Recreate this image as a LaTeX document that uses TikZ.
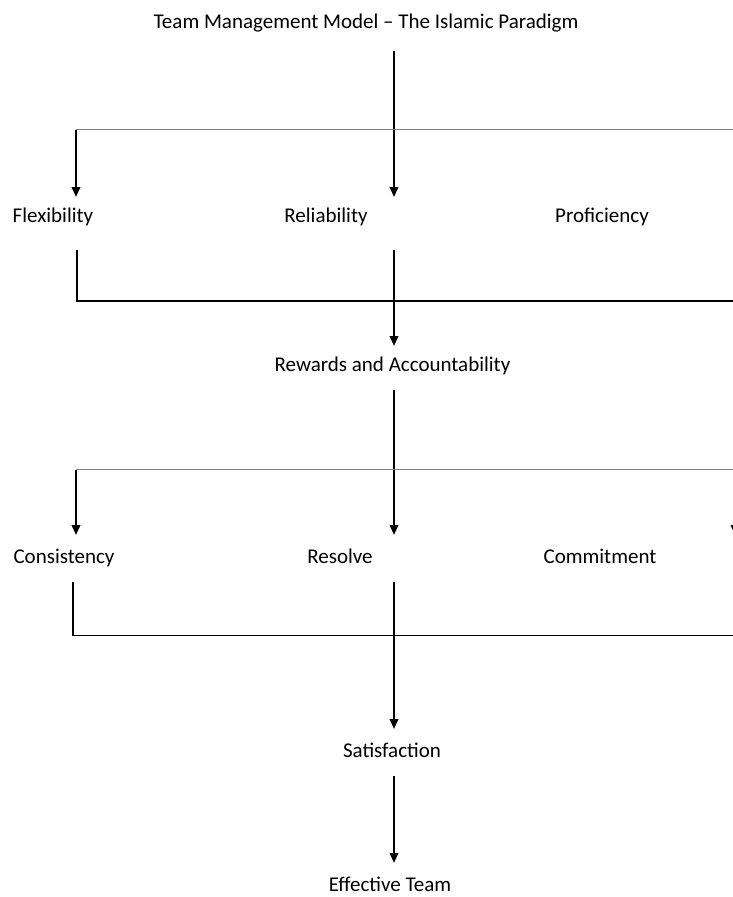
\documentclass[tikz,border=0pt]{standalone}
\usepackage{fontspec}
\setmainfont{Carlito}
\usetikzlibrary{arrows.meta}
\begin{document}
\begin{tikzpicture}[x=1pt,y=-1pt,
  lbl/.style={anchor=base,inner sep=0pt,font=\fontsize{21}{25}\selectfont},
  arr/.style={line width=2pt,-{Triangle[width=8.5pt,length=10pt]}},
  grayline/.style={line width=1pt,draw=black!50},
  thickline/.style={line width=2.8pt},
  thinline/.style={line width=1.2pt}]
\useasboundingbox (0,0) rectangle (733,897);
% texts
\node[lbl] (title) at (366,28) {Team Management Model – The Islamic Paradigm};
\node[lbl] (flex) at (53,222) {Flexibility};
\node[lbl] (reli) at (326,222) {Reliability};
\node[lbl] (prof) at (602,222) {Proficiency};
\node[lbl] (rew) at (392.5,371) {Rewards and Accountability};
\node[lbl] (cons) at (64,563) {Consistency};
\node[lbl] (reso) at (340,563) {Resolve};
\node[lbl] (comm) at (600,563) {Commitment};
\node[lbl] (sat) at (392,757) {Satisfaction};
\node[lbl] (eff) at (390,891) {Effective Team};
% coordinates
\coordinate (a1s) at (394,51);
\coordinate (a1e) at (394,197);
\coordinate (t1l) at (76,129.5);
\coordinate (t1r) at (740,129.5);
\coordinate (f1e) at (76,197);
\coordinate (r1s) at (737.8,129.5);
\coordinate (r1e) at (737.8,197);
\coordinate (b1t) at (77,250);
\coordinate (b1c) at (77,301);
\coordinate (b1r) at (740,301);
\coordinate (a2s) at (394,250);
\coordinate (a2e) at (394,346);
\coordinate (a3s) at (394,390);
\coordinate (a3e) at (394,535);
\coordinate (t2l) at (76,469.5);
\coordinate (t2r) at (740,469.5);
\coordinate (f2e) at (76,535);
\coordinate (r2s) at (735,469.5);
\coordinate (r2e) at (735,535);
\coordinate (b2t) at (73,582);
\coordinate (b2c) at (73,635.5);
\coordinate (b2r) at (740,635.5);
\coordinate (a4s) at (394,582);
\coordinate (a4e) at (394,729);
\coordinate (a5s) at (394,776);
\coordinate (a5e) at (394,863);
% connectors
\draw[arr] (a1s) -- (a1e);
\draw[grayline] (t1l) -- (t1r);
\draw[arr] (t1l) -- (f1e);
\draw[arr] (r1s) -- (r1e);
\draw[thickline] (b1t) -- (b1c) -- (b1r);
\draw[arr] (a2s) -- (a2e);
\draw[arr] (a3s) -- (a3e);
\draw[grayline] (t2l) -- (t2r);
\draw[arr] (t2l) -- (f2e);
\draw[arr] (r2s) -- (r2e);
\draw[thinline] (b2t) -- (b2c) -- (b2r);
\draw[arr] (a4s) -- (a4e);
\draw[arr] (a5s) -- (a5e);
\end{tikzpicture}
\end{document}
